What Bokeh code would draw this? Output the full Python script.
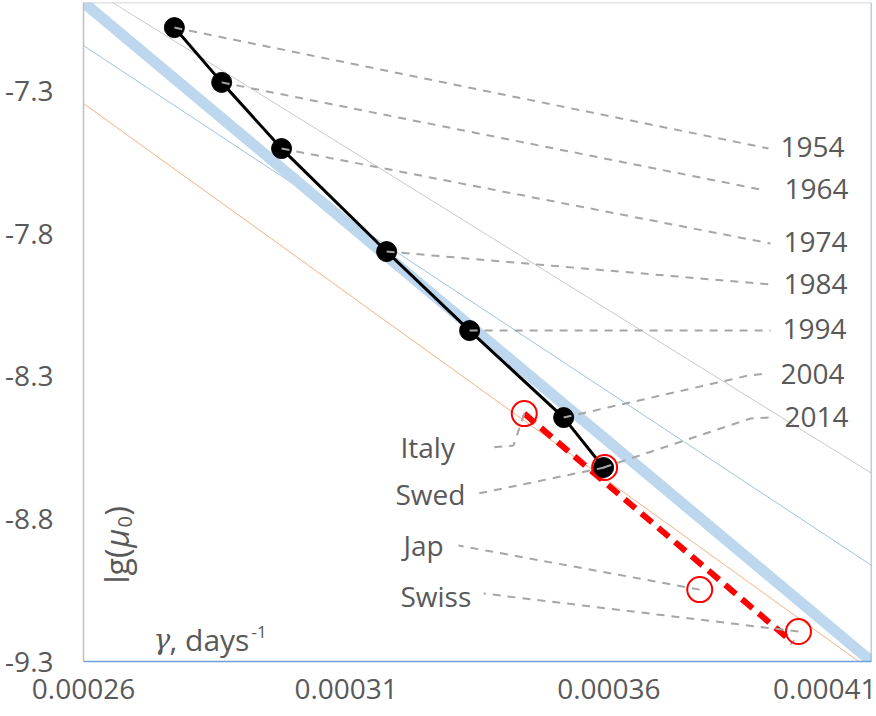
import math
from bokeh.plotting import figure
from bokeh.models import Range1d, FixedTicker, Label, Span, NumeralTickFormatter
from bokeh.embed import file_html
from bokeh.resources import INLINE
from bokeh.core.properties import value

# ---------------- data ----------------
years = ["1954", "1964", "1974", "1984", "1994", "2004", "2014"]
gamma_year = [0.0002773, 0.0002863, 0.0002977, 0.0003177, 0.0003335, 0.0003514, 0.0003590]
lgmu_year = [-7.078, -7.270, -7.502, -7.863, -8.140, -8.445, -8.620]

countries = ["Italy", "Swed", "Jap", "Swiss"]
gamma_country = [0.0003439, 0.0003592, 0.0003773, 0.0003961]
lgmu_country = [-8.431, -8.620, -9.048, -9.195]

trend_gamma = [0.0003439, 0.0003950]
trend_lgmu = [-8.431, -9.233]

line_gamma = [0.00026, 0.00041]
band_lgmu = [-6.99, -9.30]
grey_lgmu = [-6.927, -8.640]
blue_lgmu = [-7.141, -8.963]
orange_lgmu = [-7.344, -9.332]

x_ticks = [0.00026, 0.00031, 0.00036, 0.00041]
x_tick_labels = ["0.00026", "0.00031", "0.00036", "0.00041"]
y_ticks = [-9.3, -8.8, -8.3, -7.8, -7.3]
y_tick_labels = ["-9.3", "-8.8", "-8.3", "-7.8", "-7.3"]

# ---------------- layout helpers ----------------
X0, X1 = 0.00026, 0.00041
Y0, Y1 = -9.3, -6.99
FL, FR, FT, FB = 83, 871, 2, 661


def gx(px):
    return X0 + (px - FL) / (FR - FL) * (X1 - X0)


def gy(py):
    return Y0 + (FB - py) / (FB - FT) * (Y1 - Y0)


TXT = "#595959"
FONT = "Open Sans"

p = figure(width=876, height=716, output_backend="svg", toolbar_location=None,
           x_range=Range1d(X0, X1), y_range=Range1d(Y0, Y1),
           min_border_left=FL, min_border_right=876 - FR,
           min_border_top=FT, min_border_bottom=716 - FB)
p.outline_line_color = None
p.xgrid.visible = False
p.ygrid.visible = False
p.background_fill_color = "white"
p.border_fill_color = "white"

# axes
p.xaxis.ticker = FixedTicker(ticks=x_ticks)
p.xaxis.formatter = NumeralTickFormatter(format="0.00000")
p.xaxis.major_label_overrides = {t: l for t, l in zip(x_ticks, x_tick_labels)}
p.yaxis.ticker = FixedTicker(ticks=y_ticks)
p.yaxis.formatter = NumeralTickFormatter(format="0.0")
p.yaxis.major_label_overrides = {t: l for t, l in zip(y_ticks, y_tick_labels)}
for ax in (p.xaxis[0], p.yaxis[0]):
    ax.major_tick_in = 0
    ax.major_tick_out = 0
    ax.minor_tick_in = 0
    ax.minor_tick_out = 0
    ax.major_label_text_font = FONT
    ax.major_label_text_font_size = "28px"
    ax.major_label_text_color = TXT
    ax.axis_line_width = 1.5
p.xaxis.axis_line_color = "#6fa0d8"
p.yaxis.axis_line_color = "#bfbfbf"
p.xaxis.major_label_standoff = 17
p.yaxis.major_label_standoff = 30

p.add_layout(Span(location=X1, dimension="height", line_color="#6fa0d8", line_width=1.5))
p.add_layout(Span(location=Y1, dimension="width", line_color="#c8c8c8", line_width=1.5))

# model lines
p.line(line_gamma, grey_lgmu, line_color="#c9c9c9", line_width=1)
p.line(line_gamma, blue_lgmu, line_color="#9dc3e6", line_width=1)
p.line(line_gamma, orange_lgmu, line_color="#f4b183", line_width=1)
p.line(line_gamma, band_lgmu, line_color="#bdd7ee", line_width=11)

# data series
p.line(gamma_year, lgmu_year, line_color="black", line_width=3)
p.line(trend_gamma, trend_lgmu, line_color="#ff0000", line_width=6, line_dash="14 8")
p.scatter(gamma_year, lgmu_year, size=20, fill_color="black", line_color="black")
p.scatter(gamma_country, lgmu_country, size=25, fill_color=None, line_color="#ff0000", line_width=2)

# leader lines
year_label_px = [(780, 146), (784, 188), (783, 241), (783, 283), (782, 328), (780, 373), (784, 416)]
year_bend_px = [None, None, None, None, None, (748, 375), (750, 418)]
year_end_px = [(768, 148), (765, 190), (770, 243), (770, 284), (770, 330), (767, 373), (770, 417)]

country_label_px = [(400, 446), (395, 493), (403, 544), (400, 595)]
country_path_px = [[(513, 445), (492, 447)], [(478, 493)], [(458, 545)], [(483, 593)]]

xs, ys = [], []
for gxv, gyv, bend, end in zip(gamma_year, lgmu_year, year_bend_px, year_end_px):
    pts = [bend, end] if bend else [end]
    xs.append([gxv] + [gx(a) for a, b in pts])
    ys.append([gyv] + [gy(b) for a, b in pts])
for gxv, gyv, path in zip(gamma_country, lgmu_country, country_path_px):
    xs.append([gxv] + [gx(a) for a, b in path])
    ys.append([gyv] + [gy(b) for a, b in path])
p.multi_line(xs, ys, line_color="#a6a6a6", line_width=2, line_dash="8 7")

# labels
p.text(x=[gx(a) for a, b in year_label_px], y=[gy(b) for a, b in year_label_px], text=years,
       text_font=value(FONT), text_font_size="28px", text_color=TXT,
       text_align="left", text_baseline="middle")
p.text(x=[gx(a) for a, b in country_label_px], y=[gy(b) for a, b in country_label_px], text=countries,
       text_font=value(FONT), text_font_size="28px", text_color=TXT,
       text_align="left", text_baseline="middle")

# x title: gamma, days^-1
p.add_layout(Label(x=gx(153), y=gy(639), text="γ", text_font="DejaVu Serif", text_font_style="italic",
                   text_font_size="28px", text_color=TXT, text_baseline="middle", text_align="left"))
p.add_layout(Label(x=gx(169), y=gy(639), text=", days", text_font=FONT,
                   text_font_size="30px", text_color=TXT, text_baseline="middle", text_align="left"))
p.add_layout(Label(x=gx(251), y=gy(631), text="-1", text_font=FONT,
                   text_font_size="17px", text_color=TXT, text_baseline="middle", text_align="left"))

# y title: lg(mu_0), rotated
rot = math.pi / 2
p.add_layout(Label(x=gx(116), y=gy(583), text="lg(", angle=rot, text_font=FONT,
                   text_font_size="32px", text_color=TXT, text_baseline="middle", text_align="left"))
p.add_layout(Label(x=gx(116), y=gy(547), text="μ", angle=rot, text_font=FONT, text_font_style="italic",
                   text_font_size="32px", text_color=TXT, text_baseline="middle", text_align="left"))
p.add_layout(Label(x=gx(124), y=gy(527), text="0", angle=rot, text_font=FONT,
                   text_font_size="20px", text_color=TXT, text_baseline="middle", text_align="left"))
p.add_layout(Label(x=gx(116), y=gy(515), text=")", angle=rot, text_font=FONT,
                   text_font_size="32px", text_color=TXT, text_baseline="middle", text_align="left"))

open("out.html", "w").write(file_html(p, INLINE))
